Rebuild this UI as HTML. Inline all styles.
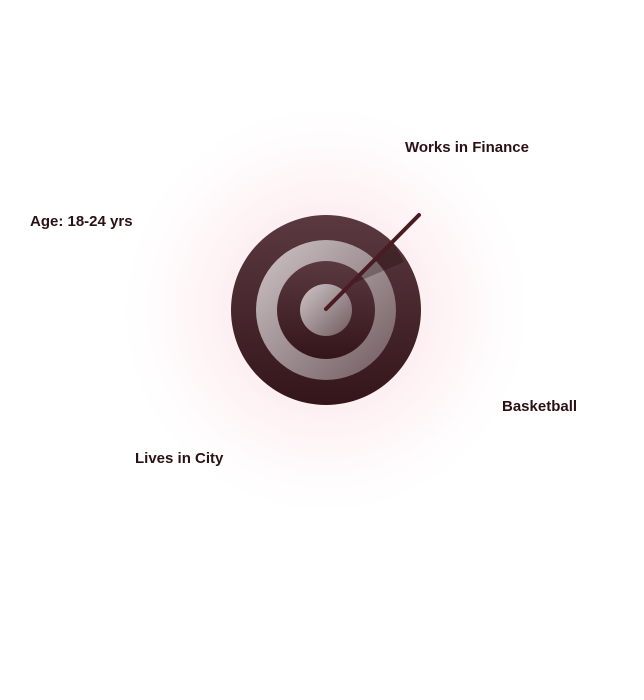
<!DOCTYPE html>
<html><head><meta charset="utf-8"><style>
html,body{margin:0;padding:0;background:#fff;}
body{width:644px;height:700px;position:relative;overflow:hidden;font-family:"Liberation Sans",sans-serif;}
.t{position:absolute;font-size:15px;font-weight:bold;color:#2b1114;white-space:nowrap;line-height:18px;letter-spacing:0px;}
.glow{position:absolute;left:126px;top:110px;width:400px;height:400px;border-radius:50%;background:radial-gradient(circle,rgba(240,120,140,0.35) 0%,rgba(245,170,185,0.18) 35%,rgba(250,215,222,0.08) 60%,rgba(255,255,255,0) 72%);}
</style></head><body>
<div class="glow"></div>
<svg width="644" height="700" style="position:absolute;left:0;top:0">
<defs>
<linearGradient id="d" x1="0" y1="0" x2="0" y2="1"><stop offset="0" stop-color="#5a3a40"/><stop offset="1" stop-color="#34151a"/></linearGradient>
<linearGradient id="l" x1="0" y1="0" x2="1" y2="1"><stop offset="0" stop-color="#cfc6c7"/><stop offset="1" stop-color="#705a5e"/></linearGradient>
</defs>
<circle cx="326" cy="310" r="95" fill="url(#d)"/>
<circle cx="326" cy="310" r="70" fill="url(#l)"/>
<circle cx="326" cy="310" r="49" fill="url(#d)"/>
<circle cx="326" cy="310" r="26" fill="url(#l)"/>
<polygon points="350,285 393,242 404,262" fill="#1a0508" opacity="0.3"/>
<line x1="326" y1="309" x2="419" y2="215" stroke="#4a1b22" stroke-width="4" stroke-linecap="round"/>
</svg>
<div class="t" style="left:405px;top:139px">Works in Finance</div>
<div class="t" style="left:30px;top:213px">Age: 18-24 yrs</div>
<div class="t" style="left:502px;top:398px">Basketball</div>
<div class="t" style="left:135px;top:450px">Lives in City</div>
</body></html>
